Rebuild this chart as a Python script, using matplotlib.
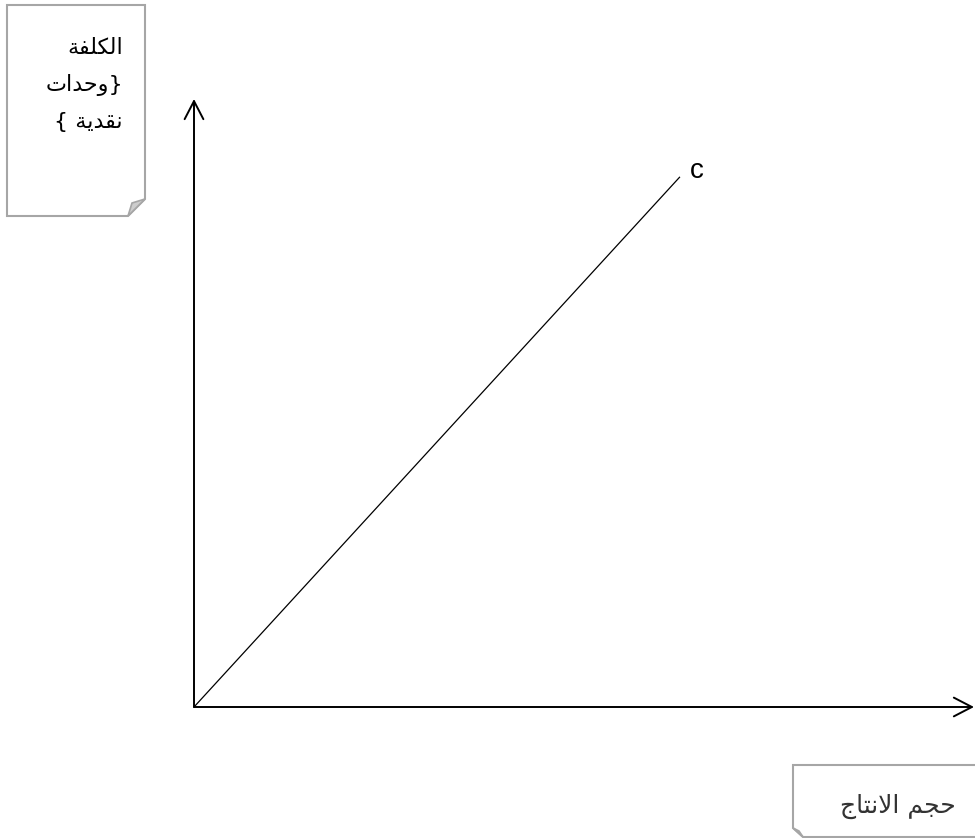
import matplotlib
matplotlib.use('Agg')
import matplotlib.pyplot as plt
from matplotlib.patches import Polygon

# data: production volume vs total cost (line c)
production = [0, 6.23]
cost = [0, 8.72]
curve_label = 'c'
y_label_words = ['الكلفة', 'وحدات', 'نقدية']
x_label = 'حجم الانتاج'

# --- minimal arabic shaping (matplotlib has no bidi/shaping) ---
FORMS = {
    'ا': (0xFE8D, 0xFE8E, None, None),
    'ل': (0xFEDD, 0xFEDE, 0xFEDF, 0xFEE0),
    'ك': (0xFED9, 0xFEDA, 0xFEDB, 0xFEDC),
    'ف': (0xFED1, 0xFED2, 0xFED3, 0xFED4),
    'ة': (0xFE93, 0xFE94, None, None),
    'و': (0xFEED, 0xFEEE, None, None),
    'ح': (0xFEA1, 0xFEA2, 0xFEA3, 0xFEA4),
    'د': (0xFEA9, 0xFEAA, None, None),
    'ت': (0xFE95, 0xFE96, 0xFE97, 0xFE98),
    'ن': (0xFEE5, 0xFEE6, 0xFEE7, 0xFEE8),
    'ق': (0xFED5, 0xFED6, 0xFED7, 0xFED8),
    'ي': (0xFEF1, 0xFEF2, 0xFEF3, 0xFEF4),
    'ج': (0xFE9D, 0xFE9E, 0xFE9F, 0xFEA0),
    'م': (0xFEE1, 0xFEE2, 0xFEE3, 0xFEE4),
}


def shape(word):
    out = []
    i = 0
    n = len(word)
    while i < n:
        ch = word[i]
        if ch not in FORMS:
            out.append(ch)
            i += 1
            continue
        prev = word[i - 1] if i > 0 else None
        joins_prev = prev in FORMS and FORMS[prev][2] is not None and not (out and out[-1] in ('\uFEFB', '\uFEFC'))
        if ch == 'ل' and i + 1 < n and word[i + 1] == 'ا':
            out.append(chr(0xFEFC if joins_prev else 0xFEFB))
            i += 2
            continue
        nxt = word[i + 1] if i + 1 < n else None
        joins_next = nxt in FORMS and FORMS[ch][2] is not None
        iso, fin, ini, med = FORMS[ch]
        if joins_prev and joins_next:
            out.append(chr(med))
        elif joins_prev:
            out.append(chr(fin))
        elif joins_next:
            out.append(chr(ini))
        else:
            out.append(chr(iso))
        i += 1
    return ''.join(out)


def visual(text):
    # shape each word and reverse into visual (left to right) order
    parts = text.split(' ')
    parts = [shape(p)[::-1] for p in parts]
    return ' '.join(parts[::-1])


# visual lines of the cost note: braces mirrored as in an RTL paragraph
note_lines = [visual(y_label_words[0]),
              visual(y_label_words[1]) + '}',
              '{ ' + visual(y_label_words[2])]

plt.rcParams['font.family'] = ['Liberation Sans', 'DejaVu Sans']

W, H = 975, 838
fig = plt.figure(figsize=(W / 100, H / 100), dpi=100)

# overlay in pixel coordinates for the note boxes
deco = fig.add_axes([0, 0, 1, 1])
deco.set_xlim(0, W)
deco.set_ylim(H, 0)
deco.axis('off')

edge = '#a6a6a6'
box1 = [(7, 5), (145, 5), (145, 199), (128, 216), (7, 216)]
deco.add_patch(Polygon(box1, closed=True, facecolor='white', edgecolor=edge, lw=1.5))
deco.add_patch(Polygon([(145, 199), (128, 216), (132, 203)], closed=True,
                       facecolor='#cdcdcd', edgecolor=edge, lw=1.2))

box2 = [(793, 765), (980, 765), (980, 837), (803, 837), (793, 828)]
deco.add_patch(Polygon(box2, closed=True, facecolor='white', edgecolor=edge, lw=1.5))
deco.add_patch(Polygon([(793, 828), (803, 837), (799, 831)], closed=True,
                       facecolor='#cdcdcd', edgecolor=edge, lw=1.2))

for k, line in enumerate(note_lines):
    deco.text(123, 48 + k * 37, line, ha='right', va='center',
              fontsize=16, family=['DejaVu Sans'])
deco.text(898, 806, visual(x_label), ha='center', va='center', fontsize=18,
          family=['DejaVu Sans'], color='#333333')

# main chart axes: origin at (194, 707)
x0, y0 = 194, 707
x1, y1 = 974, 99
ax = fig.add_axes([x0 / W, (H - y0) / H, (x1 - x0) / W, (y0 - y1) / H])
ax.patch.set_alpha(0)
ax.set_xlim(0, 10)
ax.set_ylim(0, 10)
for s in ax.spines.values():
    s.set_visible(False)
ax.set_xticks([])
ax.set_yticks([])

arrow = dict(arrowstyle='->, head_length=0.52, head_width=0.27', lw=1.4,
             color='black', mutation_scale=25, shrinkA=0, shrinkB=0)
ax.annotate('', xy=(10, 0), xytext=(0, 0), arrowprops=arrow, annotation_clip=False)
ax.annotate('', xy=(0, 10), xytext=(0, 0), arrowprops=arrow, annotation_clip=False)

ax.plot(production, cost, color='black', lw=0.9, solid_capstyle='butt')
ax.text(production[-1] + 0.13, cost[-1] + 0.09, curve_label, fontsize=20,
        ha='left', va='center')

fig.savefig('out.png', dpi=100)
